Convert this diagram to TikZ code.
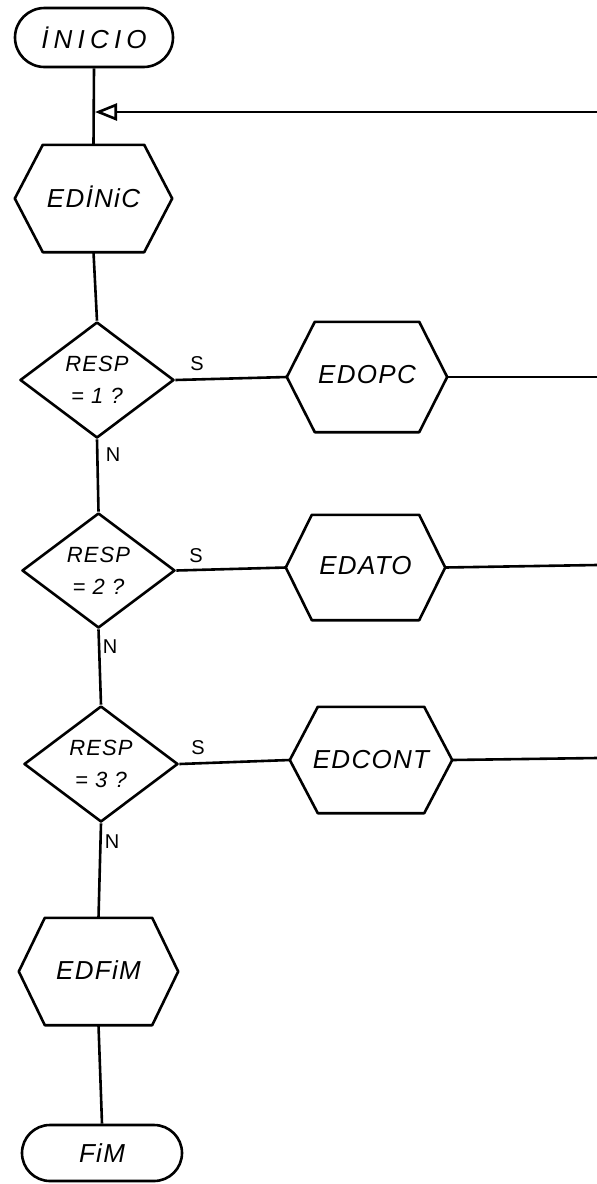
\documentclass[tikz,border=0pt]{standalone}
\usepackage{fontspec}
\usetikzlibrary{shapes.geometric,shapes.misc,arrows.meta}
\newfontfamily\hand{Liberation Sans}[LetterSpace=5]
\newfontfamily\tagfont{Liberation Sans}
% outline of a process box: a hexagon whose side points are the node's west/east anchors
\newcommand\hexframe[2]{%
  \draw[ink] (#1.west) -- ([xshift=#2]#1.north west) -- ([xshift=-#2]#1.north east)
    -- (#1.east) -- ([xshift=-#2]#1.south east) -- ([xshift=#2]#1.south west) -- cycle;}
\begin{document}
\begin{tikzpicture}[x=1pt,y=-1pt,
  ink/.style={line width=2.6pt,line join=round},
  conn/.style={line width=2.6pt},
  terminal/.style={rounded rectangle,draw,ink,inner sep=0pt,
    font=\hand\itshape\fontsize{26}{30}\selectfont},
  hexbox/.style={rectangle,inner sep=0pt,
    font=\hand\itshape\fontsize{26}{30}\selectfont},
  decision/.style={diamond,draw,ink,inner sep=0pt,align=center,aspect=1.3,
    minimum width=154pt,minimum height=116pt,
    font=\hand\itshape\fontsize{22}{32}\selectfont},
  tag/.style={inner sep=0pt,font=\tagfont\fontsize{20}{22}\selectfont},
  back/.style={-{Triangle[open,length=22pt,width=17pt,line width=2.6pt]}}]
\useasboundingbox (0,0) rectangle (597,1184);

% start / end
\node[terminal,minimum width=158pt,minimum height=59pt] (inicio) at (94,37.5)
  {\addfontfeature{LetterSpace=20}İNICIO};
\node[terminal,minimum width=160pt,minimum height=56pt] (fim) at (102,1153) {FiM};

% process boxes (labels sit a little above the middle)
\node[hexbox,minimum width=157pt,minimum height=107pt] (edinic) at (93.5,198.5) {\raisebox{3pt}{EDİNiC}};
\hexframe{edinic}{28pt}
\node[hexbox,minimum width=160pt,minimum height=110pt] (edopc) at (367,377) {\raisebox{5pt}{EDOPC}};
\hexframe{edopc}{28pt}
\node[hexbox,minimum width=159pt,minimum height=105pt] (edato) at (365.5,567.5) {\raisebox{5pt}{EDATO}};
\hexframe{edato}{26pt}
\node[hexbox,minimum width=162pt,minimum height=106pt] (edcont) at (371,760) {\raisebox{2pt}{EDCONT}};
\hexframe{edcont}{28pt}
\node[hexbox,minimum width=159pt,minimum height=107pt] (edfim) at (98.5,971.5) {\raisebox{3pt}{EDFiM}};
\hexframe{edfim}{26pt}

% decisions
\node[decision] (d1) at (97,380) {RESP\\= 1 ?};
\node[decision,minimum width=153pt,minimum height=115pt] (d2) at (98.5,570.5) {RESP\\= 2 ?};
\node[decision] (d3) at (101,764) {RESP\\= 3 ?};

% return line and the loose ends at the right border
\coordinate (join) at (95,112);
\coordinate (ret0) at (597,112);
\coordinate (ret1) at (597,377);
\coordinate (ret2) at (597,565);
\coordinate (ret3) at (597,758);

% main column
\draw[conn] (inicio.south) -- (edinic.north);
\draw[conn,back] (ret0) -- (join);
\draw[conn] (edinic.south) -- (d1.north);
\draw[conn] (d1.south) -- (d2.north);
\draw[conn] (d2.south) -- (d3.north);
\draw[conn] (d3.south) -- (edfim.north);
\draw[conn] (edfim.south) -- (fim.north);

% yes branches
\draw[conn] (d1.east) -- (edopc.west);
\draw[conn] (edopc.east) -- (ret1);
\draw[conn] (d2.east) -- (edato.west);
\draw[conn] (edato.east) -- (ret2);
\draw[conn] (d3.east) -- (edcont.west);
\draw[conn] (edcont.east) -- (ret3);

% branch labels
\node[tag] (s1) at (197,364) {S};
\node[tag] (s2) at (196,556) {S};
\node[tag] (s3) at (198,748) {S};
\node[tag] (n1) at (113,455) {N};
\node[tag] (n2) at (110,647) {N};
\node[tag] (n3) at (112,842) {N};
\end{tikzpicture}
\end{document}
